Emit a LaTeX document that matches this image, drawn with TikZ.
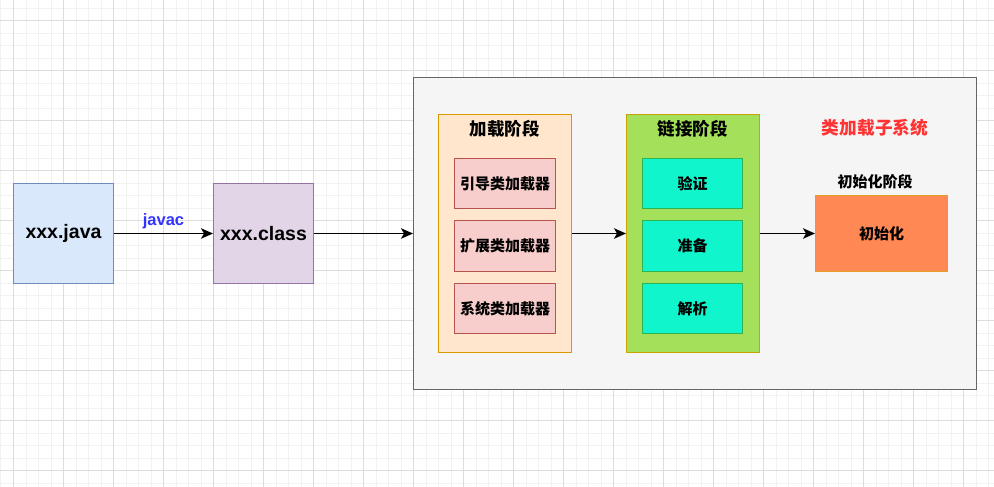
\documentclass[tikz,border=0pt]{standalone}
\usepackage{fontspec}
\setmainfont{Liberation Sans}
\newfontfamily\cjk{Noto Sans CJK SC}
\usetikzlibrary{arrows.meta}
\definecolor{gridminor}{HTML}{F2F2F2}
\definecolor{gridmajor}{HTML}{DDDDDD}
\definecolor{javafill}{HTML}{DAE8FC}\definecolor{javadraw}{HTML}{6C8EBF}
\definecolor{classfill}{HTML}{E1D5E7}\definecolor{classdraw}{HTML}{9673A6}
\definecolor{sysfill}{HTML}{F5F5F5}\definecolor{sysdraw}{HTML}{666666}
\definecolor{loadfill}{HTML}{FFE6CC}\definecolor{loaddraw}{HTML}{D79B00}
\definecolor{ldrfill}{HTML}{F8CECC}\definecolor{ldrdraw}{HTML}{B85450}
\definecolor{linkfill}{HTML}{A5E05A}\definecolor{linkdraw}{HTML}{C9A400}
\definecolor{tealfill}{HTML}{10F5CC}\definecolor{tealdraw}{HTML}{2DB34F}
\definecolor{initfill}{HTML}{FF8855}\definecolor{initdraw}{HTML}{E0A020}
\definecolor{javacblue}{HTML}{3333FF}
\definecolor{titlered}{HTML}{FF3333}
\tikzset{
  box/.style={draw, line width=1pt, inner sep=0pt, anchor=north west},
  arr/.style={-{Stealth[length=12pt,width=10.5pt,inset=3pt]}, line width=1.3pt, black},
  bigtxt/.style={font=\bfseries\fontsize{19.5}{22}\selectfont},
  cjktitle/.style={font=\cjk\bfseries\fontsize{17.5}{20}\selectfont},
  cjksmall/.style={font=\cjk\bfseries\fontsize{15}{18}\selectfont},
}
\begin{document}
\begin{tikzpicture}[x=1pt,y=-1pt]
\useasboundingbox (0,0) rectangle (994,487);
\fill[white] (0,0) rectangle (994,487);
% grid
\foreach \i in {0,...,80} {\draw[gridminor, line width=0.6pt] ({0.8+12.5*\i},0) -- ({0.8+12.5*\i},487);}
\foreach \i in {0,...,40} {\draw[gridminor, line width=0.6pt] (0,{8.2+12.5*\i}) -- (994,{8.2+12.5*\i});}
\foreach \i in {0,...,20} {\draw[gridmajor, line width=0.8pt] ({13.3+50*\i},0) -- ({13.3+50*\i},487);}
\foreach \i in {0,...,10} {\draw[gridmajor, line width=0.8pt] (0,{20.7+50*\i}) -- (994,{20.7+50*\i});}
% left boxes
\node[box, fill=javafill, draw=javadraw, minimum width=100pt, minimum height=100pt] (java) at (13,183) {};
\node[bigtxt] at (java.center) {xxx.java};
\node[box, fill=classfill, draw=classdraw, minimum width=100pt, minimum height=100pt] (class) at (213,183) {};
\node[bigtxt] at (class.center) {xxx.class};
% subsystem
\node[box, fill=sysfill, draw=sysdraw, minimum width=563pt, minimum height=312pt] (sys) at (413,77) {};
\node[font=\cjk\bfseries\fontsize{17.7}{20}\selectfont, text=titlered] (systitle) at (875,128) {类加载子系统};
% loading stage
\node[box, fill=loadfill, draw=loaddraw, minimum width=133pt, minimum height=238pt] (load) at (438,114) {};
\node[cjktitle] (loadtitle) at (504.5,129) {加载阶段};
\node[box, fill=ldrfill, draw=ldrdraw, minimum width=101pt, minimum height=50pt] (boot) at (454,158) {};
\node[cjksmall] at (boot.center) {引导类加载器};
\node[box, fill=ldrfill, draw=ldrdraw, minimum width=101pt, minimum height=51pt] (ext) at (454,220) {};
\node[cjksmall] at (ext.center) {扩展类加载器};
\node[box, fill=ldrfill, draw=ldrdraw, minimum width=101pt, minimum height=50pt] (app) at (454,283) {};
\node[cjksmall] at (app.center) {系统类加载器};
% linking stage
\node[box, fill=linkfill, draw=linkdraw, minimum width=133pt, minimum height=238pt] (link) at (626,114) {};
\node[cjktitle] (linktitle) at (692.5,129) {链接阶段};
\node[box, fill=tealfill, draw=tealdraw, minimum width=100pt, minimum height=50pt] (verify) at (642,158) {};
\node[cjksmall] at (verify.center) {验证};
\node[box, fill=tealfill, draw=tealdraw, minimum width=100pt, minimum height=51pt] (prepare) at (642,220) {};
\node[cjksmall] at (prepare.center) {准备};
\node[box, fill=tealfill, draw=tealdraw, minimum width=100pt, minimum height=50pt] (resolve) at (642,283) {};
\node[cjksmall] at (resolve.center) {解析};
% init
\node[box, fill=initfill, draw=initdraw, minimum width=132pt, minimum height=76pt] (init) at (815,195) {};
\node[cjksmall] at (init.center) {初始化};
\node[cjksmall] (inittitle) at (875,182) {初始化阶段};
% arrows
\draw[arr] (java.east) -- node[above=1pt, text=javacblue, font=\bfseries\fontsize{16.5}{19}\selectfont] {javac} (class.west);
\draw[arr] (class.east) -- (sys.west |- class.east);
\draw[arr] (load.east) -- (link.west);
\draw[arr] (link.east) -- (init.west);
\end{tikzpicture}
\end{document}
